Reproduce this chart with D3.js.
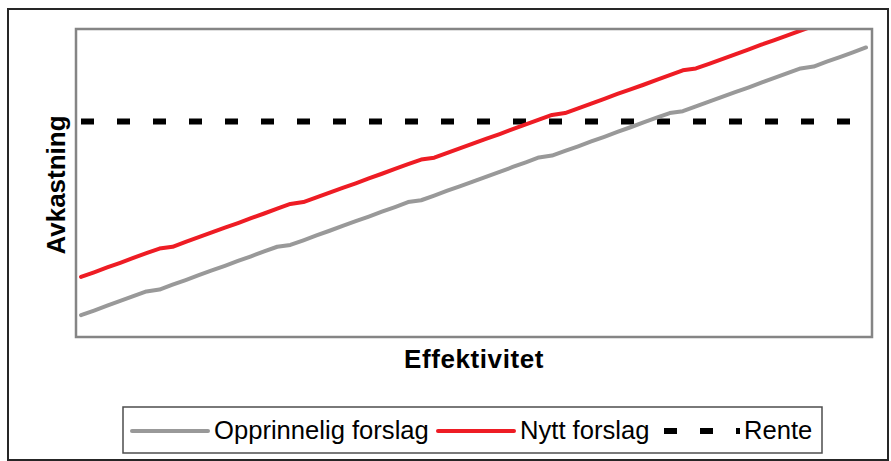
<!DOCTYPE html>
<html>
<head>
<meta charset="utf-8">
<script src="https://cdn.jsdelivr.net/npm/d3@7"></script>
<style>
  body { margin: 0; background: #fff; }
  text { font-family: "Liberation Sans", Arial, sans-serif; }
</style>
</head>
<body>
<div id="chart"></div>
<script>
// effektivitet steps (no tick labels in the original)
const steps = d3.range(61);

// Opprinnelig forslag (grey)
const opprinnelig = [
  7.1, 8.6, 10.2, 11.7, 13.3, 14.8, 15.4, 17.0, 18.5, 20.1,
  21.6, 23.1, 24.7, 26.2, 27.8, 29.3, 29.9, 31.4, 33.0, 34.5,
  36.1, 37.6, 39.1, 40.7, 42.2, 43.8, 44.4, 45.9, 47.5, 49.0,
  50.5, 52.1, 53.6, 55.2, 56.7, 58.3, 58.9, 60.4, 61.9, 63.5,
  65.0, 66.6, 68.1, 69.7, 71.2, 72.7, 73.3, 74.9, 76.4, 78.0,
  79.5, 81.0, 82.6, 84.1, 85.7, 87.2, 87.8, 89.4, 90.9, 92.4,
  94.0
];

// Nytt forslag (red)
const nytt = [
  19.5, 21.0, 22.6, 24.1, 25.7, 27.2, 28.7, 29.3, 30.9, 32.4,
  34.0, 35.5, 37.0, 38.6, 40.1, 41.7, 43.2, 43.8, 45.3, 46.9,
  48.4, 49.9, 51.5, 53.0, 54.6, 56.1, 57.6, 58.2, 59.8, 61.3,
  62.9, 64.4, 65.9, 67.5, 69.0, 70.6, 72.1, 72.7, 74.2, 75.8,
  77.3, 78.9, 80.4, 81.9, 83.5, 85.0, 86.6, 87.2, 88.7, 90.2,
  91.8, 93.3, 94.9, 96.4, 97.9, 99.5, 101.0, 101.6, 103.2, 104.7,
  106.2
];

// Rente (flat)
const rente = 70;

const seriesNames = ["Opprinnelig forslag", "Nytt forslag", "Rente"];

const width = 891, height = 461;
const plot = {left: 76, top: 29, right: 872, bottom: 337};

const svg = d3.select("#chart").append("svg")
    .attr("width", width)
    .attr("height", height);

// outer frame
svg.append("rect")
    .attr("x", 8).attr("y", 9)
    .attr("width", 880).attr("height", 451)
    .attr("fill", "#fff")
    .attr("stroke", "#262626")
    .attr("stroke-width", 2);

const x = d3.scalePoint()
    .domain(steps)
    .range([81, 866]);

const y = d3.scaleLinear()
    .domain([0, 100])
    .range([plot.bottom, plot.top]);

svg.append("clipPath").attr("id", "plotclip")
  .append("rect")
    .attr("x", plot.left).attr("y", plot.top)
    .attr("width", plot.right - plot.left)
    .attr("height", plot.bottom - plot.top);

const line = d3.line()
    .x((d, i) => x(steps[i]))
    .y(d => y(d));

const g = svg.append("g").attr("clip-path", "url(#plotclip)");

// Rente dashed line
g.append("path")
    .datum(steps.map(() => rente))
    .attr("fill", "none")
    .attr("stroke", "#000")
    .attr("stroke-width", 6)
    .attr("stroke-dasharray", "13,23")
    .attr("d", line);

g.append("path")
    .datum(opprinnelig)
    .attr("fill", "none")
    .attr("stroke", "#999999")
    .attr("stroke-width", 4)
    .attr("stroke-linejoin", "round")
    .attr("stroke-linecap", "round")
    .attr("d", line);

g.append("path")
    .datum(nytt)
    .attr("fill", "none")
    .attr("stroke", "#ee1c24")
    .attr("stroke-width", 4)
    .attr("stroke-linejoin", "round")
    .attr("stroke-linecap", "round")
    .attr("d", line);

// plot area border
svg.append("rect")
    .attr("x", plot.left).attr("y", plot.top)
    .attr("width", plot.right - plot.left)
    .attr("height", plot.bottom - plot.top)
    .attr("fill", "none")
    .attr("stroke", "#858585")
    .attr("stroke-width", 2.5);

// axis titles
svg.append("text")
    .attr("x", (plot.left + plot.right) / 2)
    .attr("y", 368)
    .attr("text-anchor", "middle")
    .style("font-size", "26px")
    .style("font-weight", "bold")
    .style("letter-spacing", "0.6px")
    .text("Effektivitet");

svg.append("text")
    .attr("transform", `translate(65,${(plot.top + plot.bottom) / 2 + 2}) rotate(-90)`)
    .attr("text-anchor", "middle")
    .style("font-size", "26px")
    .style("font-weight", "bold")
    .text("Avkastning");

// legend
const legend = svg.append("g");
legend.append("rect")
    .attr("x", 123).attr("y", 407)
    .attr("width", 699).attr("height", 46)
    .attr("fill", "#fff")
    .attr("stroke", "#4d4d4d")
    .attr("stroke-width", 1.5);

const legendItems = [
  {name: seriesNames[0], x0: 132, tx: 214, color: "#999999", dash: null, w: 4},
  {name: seriesNames[1], x0: 438, tx: 520, color: "#ee1c24", dash: null, w: 4},
  {name: seriesNames[2], x0: 664, tx: 744, color: "#000", dash: "13,23", w: 6}
];

legendItems.forEach(it => {
  legend.append("line")
      .attr("x1", it.x0).attr("x2", it.x0 + 76)
      .attr("y1", 431).attr("y2", 431)
      .attr("stroke", it.color)
      .attr("stroke-width", it.w)
      .attr("stroke-linecap", it.dash ? "butt" : "round")
      .attr("stroke-dasharray", it.dash);
  legend.append("text")
      .attr("x", it.tx)
      .attr("y", 439)
      .style("font-size", "25.6px")
      .text(it.name);
});
</script>
</body>
</html>
